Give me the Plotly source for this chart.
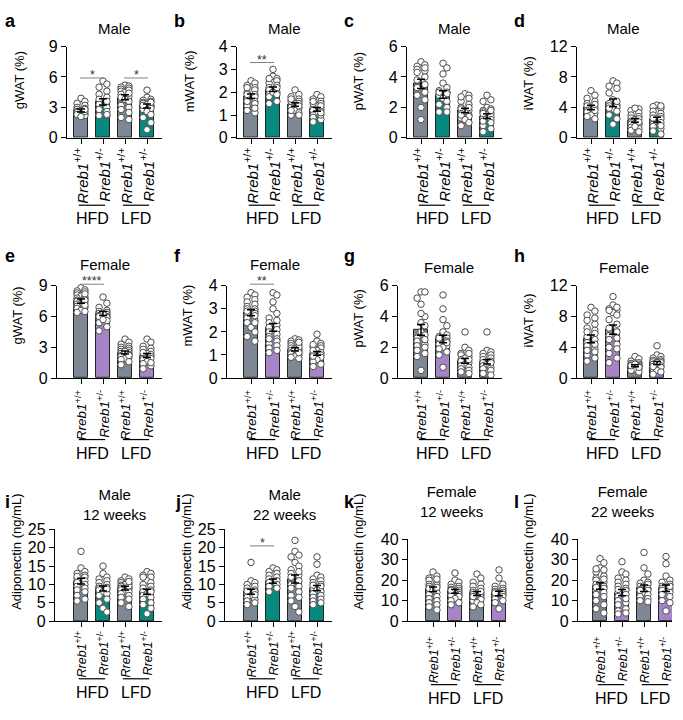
import numpy as np
import plotly.graph_objects as go

W, H = 683, 720
GREY = "#7e8894"
TEAL = "#08897f"
PURPLE = "#a684c6"
FONT = "Liberation Sans, Arial, sans-serif"

genotypes = ["+/+", "+/-", "+/+", "+/-"]
tick_labels = [f"<i>Rreb1</i><sup>{g}</sup>" for g in genotypes]
diet_groups = ["HFD", "LFD"]

# ---------------- data ----------------
a_means = [2.7, 3.55, 4.0, 3.15]
a_sem = [0.15, 0.3, 0.25, 0.2]
a_pts = [[3.9, 3.6, 3.4, 3.2, 3.0, 2.9, 2.8, 2.7, 2.6, 2.5, 2.4, 2.3, 2.2, 2.1, 2.6, 2.8],
         [5.6, 5.3, 5.0, 4.6, 4.3, 4.0, 3.8, 3.6, 3.3, 3.0, 2.6, 2.3, 2.2, 2.2, 2.3, 2.8],
         [5.2, 5.1, 5.0, 4.9, 4.8, 4.6, 4.5, 4.3, 4.1, 4.0, 3.8, 3.6, 3.2, 3.0, 2.8, 2.5, 2.0, 1.8, 4.7, 4.4],
         [4.7, 4.0, 3.8, 3.7, 3.6, 3.5, 3.4, 3.3, 3.2, 3.1, 3.0, 2.9, 2.8, 2.6, 2.3, 2.0, 1.5, 0.8, 3.5, 3.2]]

b_means = [1.82, 2.13, 1.46, 1.25]
b_sem = [0.1, 0.1, 0.08, 0.08]
b_pts = [[2.5, 2.4, 2.3, 2.2, 2.1, 2.0, 1.9, 1.8, 1.7, 1.6, 1.5, 1.4, 1.2, 1.1, 2.2, 1.9, 1.6, 1.3],
         [3.0, 2.7, 2.6, 2.5, 2.4, 2.3, 2.2, 2.1, 2.0, 1.9, 1.8, 1.6, 1.5, 2.2, 2.0, 2.6, 1.9],
         [2.1, 1.9, 1.8, 1.7, 1.6, 1.5, 1.4, 1.35, 1.3, 1.2, 1.1, 1.0, 1.0, 1.5, 1.6, 1.4, 1.2, 1.7],
         [1.9, 1.8, 1.7, 1.6, 1.5, 1.4, 1.3, 1.2, 1.1, 1.0, 0.9, 0.8, 0.7, 1.5, 1.2, 1.3, 1.0, 1.1, 1.4, 1.6]]

c_means = [3.55, 2.85, 1.8, 1.43]
c_sem = [0.3, 0.25, 0.15, 0.15]
c_pts = [[5.0, 4.8, 4.7, 4.5, 4.4, 4.3, 4.0, 3.8, 3.5, 3.0, 2.8, 2.5, 2.0, 1.2, 4.6, 3.3],
         [4.9, 4.6, 4.2, 3.6, 3.3, 3.1, 3.0, 2.9, 2.8, 2.6, 2.4, 2.2, 2.0, 1.7, 1.7, 3.0],
         [2.9, 2.8, 2.6, 2.4, 2.2, 2.0, 1.9, 1.8, 1.7, 1.6, 1.5, 1.4, 1.3, 1.2, 1.0, 0.8, 2.7, 2.0, 1.5],
         [2.8, 2.4, 2.0, 1.9, 1.8, 1.7, 1.6, 1.5, 1.4, 1.3, 1.2, 1.0, 0.8, 0.6, 0.4, 2.5, 1.8, 1.6, 1.1]]

d_means = [4.0, 4.6, 2.3, 2.4]
d_sem = [0.3, 0.5, 0.25, 0.3]
d_pts = [[6.2, 5.6, 5.2, 4.8, 4.5, 4.2, 4.0, 3.8, 3.6, 3.4, 3.2, 3.0, 2.8, 2.5, 4.4, 3.6],
         [7.5, 7.2, 6.8, 6.5, 5.9, 5.0, 4.5, 4.3, 4.0, 3.8, 3.5, 3.0, 2.5, 1.8, 4.8, 4.2, 3.9],
         [3.8, 3.6, 3.3, 3.0, 2.8, 2.6, 2.4, 2.2, 2.0, 1.9, 1.8, 1.6, 1.4, 1.2, 1.0, 0.8, 2.5, 2.1, 3.9, 1.5],
         [4.3, 4.1, 3.9, 3.5, 3.2, 3.0, 2.8, 2.5, 2.2, 2.0, 1.8, 1.5, 1.2, 0.9, 0.5, 4.2, 2.6, 1.6]]

e_means = [7.5, 6.3, 2.5, 2.2]
e_sem = [0.2, 0.2, 0.15, 0.2]
e_pts = [[8.8, 8.6, 8.5, 8.4, 8.3, 8.1, 8.0, 7.9, 7.8, 7.7, 7.6, 7.5, 7.4, 7.3, 7.2, 7.0, 6.9, 6.8, 6.6, 6.5, 6.4, 8.2, 7.6, 7.1],
         [7.9, 7.3, 6.9, 6.6, 6.5, 6.4, 6.3, 6.2, 6.1, 6.0, 5.9, 5.8, 5.6, 5.4, 5.0, 4.6, 6.3, 6.0, 5.7],
         [3.8, 3.5, 3.3, 3.1, 3.0, 2.9, 2.8, 2.7, 2.6, 2.5, 2.4, 2.3, 2.2, 2.1, 2.0, 1.9, 1.8, 1.6, 1.3, 2.6, 2.2],
         [3.8, 3.5, 3.1, 2.9, 2.8, 2.6, 2.4, 2.3, 2.2, 2.1, 2.0, 1.9, 1.8, 1.6, 1.4, 1.2, 0.9, 2.5, 1.5]]

f_means = [2.83, 2.2, 1.24, 1.07]
f_sem = [0.13, 0.17, 0.07, 0.08]
f_pts = [[3.7, 3.6, 3.5, 3.4, 3.3, 3.2, 3.1, 3.0, 2.9, 2.85, 2.8, 2.7, 2.6, 2.5, 2.4, 2.2, 2.0, 1.8, 1.6, 3.0, 2.9, 2.7, 2.4],
         [3.7, 3.6, 3.3, 3.0, 2.8, 2.6, 2.4, 2.3, 2.2, 2.1, 2.0, 1.9, 1.8, 1.7, 1.6, 1.5, 1.4, 1.3, 1.2, 1.1, 2.5, 1.7],
         [1.7, 1.65, 1.6, 1.5, 1.45, 1.4, 1.3, 1.25, 1.2, 1.15, 1.1, 1.05, 1.0, 0.95, 0.9, 0.85, 1.35, 1.25, 1.55, 1.1],
         [1.9, 1.6, 1.5, 1.4, 1.35, 1.3, 1.2, 1.1, 1.05, 1.0, 0.9, 0.8, 0.7, 0.6, 0.5, 1.45, 1.2, 0.95]]

g_means = [3.13, 2.54, 1.12, 1.06]
g_sem = [0.35, 0.25, 0.15, 0.15]
g_pts = [[5.6, 5.6, 5.2, 4.8, 4.0, 3.6, 3.4, 3.0, 2.8, 2.6, 2.4, 2.2, 2.1, 2.0, 1.8, 1.6, 1.4, 0.5, 2.5, 4.2],
         [5.4, 4.5, 3.8, 3.4, 3.0, 2.8, 2.7, 2.6, 2.5, 2.4, 2.3, 2.2, 2.1, 2.0, 1.9, 1.7, 1.5, 0.7, 2.6, 2.3],
         [3.0, 2.0, 1.8, 1.6, 1.5, 1.4, 1.3, 1.2, 1.1, 1.0, 0.9, 0.8, 0.7, 0.6, 0.5, 0.4, 0.3, 1.6, 1.2],
         [3.0, 1.8, 1.7, 1.6, 1.5, 1.4, 1.3, 1.2, 1.1, 1.0, 0.9, 0.8, 0.7, 0.6, 0.5, 0.3, 0.2, 1.0]]

h_means = [5.1, 6.3, 1.6, 1.95]
h_sem = [0.5, 0.6, 0.12, 0.2]
h_pts = [[9.2, 8.7, 8.2, 7.8, 7.5, 7.0, 6.5, 6.2, 5.8, 5.4, 5.0, 4.6, 4.2, 3.8, 3.4, 3.0, 2.6, 2.2, 4.4, 3.6, 6.0],
         [10.6, 9.5, 9.0, 8.8, 8.5, 8.2, 7.6, 7.0, 6.5, 6.0, 5.5, 5.0, 4.4, 3.8, 3.2, 2.6, 2.0, 8.8, 5.2, 4.0, 9.2],
         [2.8, 2.5, 2.2, 2.0, 1.9, 1.8, 1.7, 1.6, 1.5, 1.4, 1.3, 1.2, 1.1, 1.0, 0.8, 1.6, 1.4, 1.8],
         [4.2, 3.0, 2.8, 2.6, 2.4, 2.3, 2.2, 2.1, 2.0, 1.8, 1.6, 1.4, 1.2, 1.0, 0.8, 0.5, 2.0, 1.5]]

i_means = [10.9, 8.9, 9.0, 8.0]
i_sem = [0.8, 0.7, 0.5, 0.7]
i_pts = [[19.0, 14.5, 13.5, 13.0, 12.5, 12.0, 11.5, 11.0, 10.5, 10.0, 9.5, 9.0, 8.5, 8.0, 7.0, 6.0, 5.5, 12.2],
         [15.0, 13.0, 12.0, 11.5, 11.0, 10.5, 10.0, 9.5, 9.0, 8.5, 8.0, 7.5, 7.0, 6.0, 5.0, 3.5, 2.5, 9.2, 8.8],
         [12.0, 11.5, 11.0, 10.5, 10.2, 10.0, 9.8, 9.5, 9.2, 9.0, 8.8, 8.5, 8.2, 8.0, 7.5, 7.0, 6.5, 6.0, 5.0, 4.0, 9.6, 10.8],
         [13.5, 13.0, 12.5, 12.0, 11.0, 10.5, 10.0, 9.5, 9.0, 8.5, 8.0, 7.5, 7.0, 6.5, 6.0, 5.0, 4.5, 3.5, 2.0, 12.0, 8.0]]

j_means = [8.0, 10.9, 11.5, 9.0]
j_sem = [0.7, 0.6, 1.1, 0.7]
j_pts = [[16.0, 11.0, 10.5, 10.0, 9.5, 9.0, 8.5, 8.0, 7.5, 7.0, 6.5, 6.0, 5.5, 5.0, 4.5, 8.2, 7.2],
         [14.5, 14.0, 13.5, 13.0, 12.5, 12.0, 11.5, 11.0, 10.5, 10.0, 9.5, 9.0, 8.0],
         [22.0, 19.0, 18.0, 17.5, 16.0, 15.0, 14.0, 13.0, 12.5, 12.0, 11.0, 10.0, 9.5, 9.0, 8.0, 7.0, 6.5, 5.5, 4.0, 2.5, 13.5],
         [17.5, 15.5, 12.5, 12.0, 11.5, 11.0, 10.5, 10.0, 9.5, 9.0, 8.5, 8.0, 7.5, 7.0, 6.5, 6.0, 5.5, 5.0, 4.5, 9.8]]

k_means = [15.5, 14.5, 13.5, 13.5]
k_sem = [1.2, 0.9, 1.0, 1.1]
k_pts = [[24, 22, 21, 20, 19, 18, 17.5, 17, 16, 15, 14, 13, 12, 11, 10, 9, 8, 7, 5.5, 16.5, 20.5],
         [23.5, 20, 19, 18, 17, 16.5, 16, 15.5, 15, 14.5, 14, 13.5, 13, 12.5, 12, 11, 10, 9, 8, 15],
         [23, 21, 19, 18, 17, 16, 15, 14, 13.5, 13, 12.5, 12, 11.5, 11, 10.5, 10, 9, 8, 7, 12, 14.5],
         [25, 21, 18, 17, 16, 15.5, 15, 14.5, 14, 13.5, 13, 12.5, 12, 11, 10, 9, 6, 13.8]]

l_means = [17.2, 13.9, 16.1, 16.1]
l_sem = [1.6, 1.5, 1.6, 1.6]
l_pts = [[30.5, 28.5, 26, 25, 24, 22, 21, 20, 19, 18, 17, 16, 15, 14, 13, 12, 10, 8, 6, 4, 20.5, 16.5, 25.5],
         [29, 24, 23, 21, 20, 19, 18, 17, 16, 15, 14, 13, 12, 10, 9, 8, 6, 5, 4, 3.5, 15.5, 11],
         [33.5, 26, 23, 20, 19, 18.5, 18, 17, 16, 15.5, 15, 14, 13, 12, 11, 10, 9.5, 15],
         [31.5, 28, 22, 20, 19, 18, 17, 16.5, 16, 15.5, 15, 14, 13, 12, 10, 9, 5, 17]]

# ---------------- layout of panels (pixel geometry) ----------------
ADIPO = "Adiponectin (ng/mL)"
ROW1 = dict(top=39.5, bottom=133, line_y=202, grp_y=216, lab_top=141, lab_size=15)
ROW2 = dict(top=284.5, bottom=379, line_y=442, grp_y=456, lab_top=389, lab_size=13.5)
ROW3 = dict(top=534, bottom=628, line_y=687, grp_y=701, lab_top=636, lab_size=12.5)
ROW3B = dict(top=544, bottom=628, line_y=693, grp_y=707, lab_top=642, lab_size=12.5)

panels = [
    dict(letter="a", title="Male", ytitle="gWAT (%)", ymax=9, dtick=3, accent=TEAL, means=a_means, sem=a_sem, pts=a_pts,
         sig=[(0, 1, 5.9, "*"), (2, 3, 5.9, "*")], left=67, right=162, bar0=81,
         title_xy=(114.5, 21), ytitle_xy=(19, 74), letter_xy=(3, 13), **ROW1),
    dict(letter="b", title="Male", ytitle="mWAT (%)", ymax=4, dtick=1, accent=TEAL, means=b_means, sem=b_sem, pts=b_pts,
         sig=[(0, 1, 3.3, "**")], left=237, right=332, bar0=251,
         title_xy=(284.5, 21), ytitle_xy=(189, 75), letter_xy=(172, 13), **ROW1),
    dict(letter="c", title="Male", ytitle="pWAT (%)", ymax=6, dtick=2, accent=TEAL, means=c_means, sem=c_sem, pts=c_pts,
         sig=[], left=407, right=502, bar0=421,
         title_xy=(454.5, 21), ytitle_xy=(358, 75), letter_xy=(342, 13), **ROW1),
    dict(letter="d", title="Male", ytitle="iWAT (%)", ymax=12, dtick=4, accent=TEAL, means=d_means, sem=d_sem, pts=d_pts,
         sig=[], left=577, right=672, bar0=591,
         title_xy=(623, 21), ytitle_xy=(528, 77), letter_xy=(512, 13), **ROW1),
    dict(letter="e", title="Female", ytitle="gWAT (%)", ymax=9, dtick=3, accent=PURPLE, means=e_means, sem=e_sem, pts=e_pts,
         sig=[(0, 1, 9.15, "****")], left=57, right=162, bar0=81,
         title_xy=(105, 263), ytitle_xy=(18, 315), letter_xy=(3, 254), **ROW2),
    dict(letter="f", title="Female", ytitle="mWAT (%)", ymax=4, dtick=1, accent=PURPLE, means=f_means, sem=f_sem, pts=f_pts,
         sig=[(0, 1, 4.07, "**")], left=227, right=332, bar0=251,
         title_xy=(275, 263), ytitle_xy=(188, 315), letter_xy=(172, 254), **ROW2),
    dict(letter="g", title="Female", ytitle="pWAT (%)", ymax=6, dtick=2, accent=PURPLE, means=g_means, sem=g_sem, pts=g_pts,
         sig=[], left=398, right=502, bar0=421,
         title_xy=(448.5, 266), ytitle_xy=(358, 318), letter_xy=(342, 254), **ROW2),
    dict(letter="h", title="Female", ytitle="iWAT (%)", ymax=12, dtick=4, accent=PURPLE, means=h_means, sem=h_sem, pts=h_pts,
         sig=[], left=577, right=672, bar0=591,
         title_xy=(623.5, 266), ytitle_xy=(528, 320), letter_xy=(512, 254), **ROW2),
    dict(letter="i", title="Male<br>12 weeks", ytitle=ADIPO, ymax=25, dtick=5, accent=TEAL, means=i_means, sem=i_sem, pts=i_pts,
         sig=[], left=55, right=162, bar0=81,
         title_xy=(114, 508), ytitle_xy=(17, 557), letter_xy=(3, 506), **ROW3),
    dict(letter="j", title="Male<br>22 weeks", ytitle=ADIPO, ymax=25, dtick=5, accent=TEAL, means=j_means, sem=j_sem, pts=j_pts,
         sig=[(0, 1, 20.5, "*")], left=225, right=332, bar0=251,
         title_xy=(284, 508), ytitle_xy=(187, 557), letter_xy=(173, 506), **ROW3),
    dict(letter="k", title="Female<br>12 weeks", ytitle=ADIPO, ymax=40, dtick=10, accent=PURPLE, means=k_means, sem=k_sem, pts=k_pts,
         sig=[], left=408, right=506, bar0=433,
         title_xy=(451, 505), ytitle_xy=(359, 557), letter_xy=(342, 506), **ROW3B),
    dict(letter="l", title="Female<br>22 weeks", ytitle=ADIPO, ymax=40, dtick=10, accent=PURPLE, means=l_means, sem=l_sem, pts=l_pts,
         sig=[], left=578, right=672, bar0=600,
         title_xy=(622, 505), ytitle_xy=(529, 557), letter_xy=(512, 506), **ROW3B),
]

SP = 22.0      # pixel distance between bar centres
MS = 6.5       # marker size (px)


def swarm(vals, px_per_unit, px_per_x, size=MS, maxoff=0.3):
    """simple deterministic beeswarm: returns x offsets in data units"""
    vals = list(vals)
    order = sorted(range(len(vals)), key=lambda k: -vals[k])
    step = size * 0.6
    cand = [0.0]
    for k in range(1, 10):
        cand += [k * step, -k * step]
    maxpx = maxoff * px_per_x
    cand = [c for c in cand if abs(c) <= maxpx]
    placed, offs = [], [0.0] * len(vals)
    for idx in order:
        y = vals[idx] * px_per_unit
        best, best_ov, chosen = None, 1e9, None
        for c in cand:
            ov = 0.0
            for (px, py) in placed:
                dd = np.hypot(px - c, py - y)
                if dd < size:
                    ov += size - dd
            if ov == 0:
                chosen = c
                break
            if ov < best_ov:
                best_ov, best = ov, c
        if chosen is None:
            chosen = best
        placed.append((chosen, y))
        offs[idx] = chosen / px_per_x
    return offs


fig = go.Figure()
shapes, annotations = [], []


def px2x(px):
    return px / W


def px2y(py):
    return 1 - py / H


for n, p in enumerate(panels, start=1):
    xa = "x" if n == 1 else f"x{n}"
    ya = "y" if n == 1 else f"y{n}"
    xkey = "xaxis" if n == 1 else f"xaxis{n}"
    ykey = "yaxis" if n == 1 else f"yaxis{n}"
    xr = [-(p["bar0"] - p["left"]) / SP, 3 + (p["right"] - (p["bar0"] + 3 * SP)) / SP]
    ppu = (p["bottom"] - p["top"]) / p["ymax"]
    cols = [GREY, p["accent"], GREY, p["accent"]]

    fig.add_trace(go.Bar(x=[0, 1, 2, 3], y=p["means"], width=0.63,
                         marker=dict(color=cols, line=dict(color="#222222", width=1)),
                         xaxis=xa, yaxis=ya, showlegend=False, hoverinfo="skip"))
    xs, ys = [], []
    for gi, vals in enumerate(p["pts"]):
        offs = swarm(vals, ppu, SP)
        xs += [gi + o for o in offs]
        ys += list(vals)
    fig.add_trace(go.Scatter(x=xs, y=ys, mode="markers", cliponaxis=False,
                             marker=dict(symbol="circle", size=MS, color="white",
                                         line=dict(color="#4d4d4d", width=1)),
                             xaxis=xa, yaxis=ya, showlegend=False, hoverinfo="skip"))
    fig.add_trace(go.Scatter(x=[0, 1, 2, 3], y=p["means"], mode="markers", cliponaxis=False,
                             marker=dict(size=1, opacity=0),
                             error_y=dict(type="data", array=p["sem"], color="black", thickness=1.5, width=4),
                             xaxis=xa, yaxis=ya, showlegend=False, hoverinfo="skip"))

    fig.layout[xkey] = dict(domain=[px2x(p["left"]), px2x(p["right"])], range=xr, anchor=ya,
                            tickmode="array", tickvals=[0, 1, 2, 3], showticklabels=False,
                            ticks="outside", ticklen=5, tickwidth=1.2, tickcolor="black",
                            showline=True, linecolor="black", linewidth=1.3, showgrid=False, zeroline=False,
                            fixedrange=True)
    fig.layout[ykey] = dict(domain=[px2y(p["bottom"]), px2y(p["top"])], range=[0, p["ymax"]], anchor=xa,
                            tickmode="array", tickvals=list(range(0, p["ymax"] + 1, p["dtick"])),
                            ticks="outside", ticklen=5, tickwidth=1.2, tickcolor="black",
                            showline=True, linecolor="black", linewidth=1.3, showgrid=False, zeroline=False,
                            tickfont=dict(family=FONT, size=16, color="black"), fixedrange=True)

    # rotated genotype tick labels
    for gi, lab in enumerate(tick_labels):
        annotations.append(dict(xref=xa, yref="paper", x=gi, y=px2y(p["lab_top"]), text=lab, showarrow=False,
                                textangle=-90, xanchor="center", yanchor="top",
                                font=dict(family=FONT, size=p["lab_size"], color="black")))

    # significance brackets (paper y so they may sit above the axis range)
    for (g0, g1, yv, txt) in p["sig"]:
        yp = px2y(p["bottom"] - yv * ppu)
        shapes.append(dict(type="line", xref=xa, yref="paper", x0=g0 - 0.05, x1=g1 + 0.05, y0=yp, y1=yp,
                           line=dict(color="#808080", width=1)))
        annotations.append(dict(xref=xa, yref="paper", x=(g0 + g1) / 2, y=yp, text=txt, showarrow=False,
                                yanchor="bottom", yshift=-6, font=dict(family=FONT, size=12.5, color="#333333")))

    # diet group lines and labels
    for gi, gname in enumerate(diet_groups):
        x0, x1 = 2 * gi - 0.1, 2 * gi + 1.1
        shapes.append(dict(type="line", xref=xa, yref="paper", x0=x0, x1=x1,
                           y0=px2y(p["line_y"]), y1=px2y(p["line_y"]), line=dict(color="black", width=1.2)))
        annotations.append(dict(xref=xa, yref="paper", x=2 * gi + 0.5, y=px2y(p["grp_y"]), text=gname,
                                showarrow=False, xanchor="center", yanchor="middle",
                                font=dict(family=FONT, size=16, color="black")))

    # titles, y-axis titles, panel letters
    tx, ty = p["title_xy"]
    annotations.append(dict(xref="paper", yref="paper", x=px2x(tx), y=px2y(ty), text=p["title"], showarrow=False,
                            xanchor="center", yanchor="middle", font=dict(family=FONT, size=15, color="black")))
    yx, yy = p["ytitle_xy"]
    annotations.append(dict(xref="paper", yref="paper", x=px2x(yx), y=px2y(yy), text=p["ytitle"], showarrow=False,
                            textangle=-90, xanchor="center", yanchor="middle",
                            font=dict(family=FONT, size=13, color="black")))
    lx, ly = p["letter_xy"]
    annotations.append(dict(xref="paper", yref="paper", x=px2x(lx), y=px2y(ly), text=f"<b>{p['letter']}</b>",
                            showarrow=False, xanchor="left", yanchor="middle",
                            font=dict(family=FONT, size=18, color="black")))

fig.update_layout(width=W, height=H, margin=dict(l=0, r=0, t=0, b=0),
                  paper_bgcolor="white", plot_bgcolor="rgba(0,0,0,0)",
                  showlegend=False, bargap=0, shapes=shapes, annotations=annotations,
                  font=dict(family=FONT, color="black"))

# no mode bar; remove the default page margin so the 683x720 figure fills the window exactly
fig.write_html("out.html", config={"displayModeBar": False},
               post_script="document.body.style.margin='0';document.documentElement.style.overflow='hidden';")
